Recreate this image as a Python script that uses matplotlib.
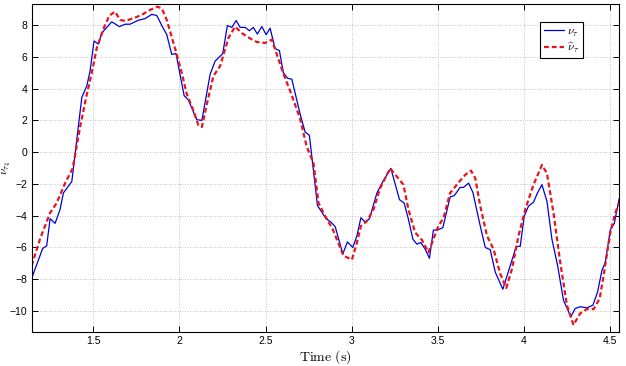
import matplotlib
matplotlib.use("Agg")
import matplotlib.pyplot as plt

t_true = [1.142, 1.206, 1.229, 1.249, 1.278, 1.307, 1.326, 1.375, 1.433, 1.462, 1.481, 1.504,
          1.529, 1.549, 1.607, 1.651, 1.684, 1.713, 1.761, 1.800, 1.839, 1.868, 1.903, 1.926,
          1.955, 1.980, 2.027, 2.052, 2.100, 2.130, 2.178, 2.207, 2.251, 2.278, 2.304, 2.329,
          2.352, 2.381, 2.406, 2.429, 2.452, 2.478, 2.503, 2.526, 2.555, 2.580, 2.603, 2.627,
          2.652, 2.700, 2.729, 2.754, 2.801, 2.851, 2.879, 2.904, 2.948, 2.975, 3.006, 3.030,
          3.053, 3.078, 3.103, 3.146, 3.181, 3.227, 3.277, 3.304, 3.329, 3.355, 3.378, 3.401,
          3.426, 3.451, 3.474, 3.498, 3.529, 3.571, 3.595, 3.629, 3.649, 3.678, 3.703, 3.746,
          3.775, 3.804, 3.833, 3.877, 3.920, 3.955, 3.978, 4.001, 4.026, 4.055, 4.078, 4.104,
          4.133, 4.162, 4.195, 4.229, 4.272, 4.297, 4.326, 4.365, 4.400, 4.427, 4.452, 4.472,
          4.501, 4.524, 4.552]
nu_true = [-7.93, -6.06, -5.90, -4.19, -4.48, -3.60, -2.57, -1.85, 3.44, 4.17, 5.10, 7.00,
           6.80, 7.50, 8.20, 7.90, 8.05, 8.05, 8.30, 8.40, 8.67, 8.60, 7.85, 7.40,
           6.15, 6.20, 3.55, 3.28, 2.04, 2.00, 4.90, 5.73, 6.20, 7.97, 7.85, 8.28,
           7.85, 7.85, 7.64, 7.85, 7.43, 7.90, 7.39, 7.80, 6.52, 6.39, 5.00, 4.65,
           4.59, 2.41, 1.27, 1.06, -3.36, -4.19, -4.40, -4.69, -6.41, -5.65, -6.00, -5.27,
           -4.13, -4.40, -4.19, -2.57, -1.85, -1.02, -2.99, -3.20, -4.23, -5.48, -5.79, -5.69,
           -6.10, -6.68, -4.90, -4.90, -4.75, -2.82, -2.74, -2.22, -2.22, -1.95, -2.53, -4.65,
           -6.00, -6.14, -7.55, -8.63, -7.14, -5.93, -5.93, -4.03, -3.40, -3.15, -2.57, -2.05,
           -3.09, -5.48, -7.14, -9.32, -10.36, -9.84, -9.73, -9.80, -9.63, -8.80, -7.45, -6.93,
           -4.90, -4.48, -2.95]

t_est = [1.142, 1.190, 1.249, 1.287, 1.336, 1.380, 1.423, 1.458, 1.491, 1.520, 1.562, 1.593,
         1.626, 1.655, 1.684, 1.732, 1.781, 1.829, 1.872, 1.897, 1.926, 1.961, 1.984, 2.013,
         2.042, 2.081, 2.110, 2.130, 2.159, 2.197, 2.236, 2.284, 2.323, 2.362, 2.406, 2.449,
         2.497, 2.536, 2.565, 2.603, 2.646, 2.700, 2.739, 2.778, 2.807, 2.846, 2.890, 2.917,
         2.952, 3.001, 3.030, 3.053, 3.088, 3.126, 3.165, 3.223, 3.262, 3.300, 3.329, 3.368,
         3.407, 3.445, 3.474, 3.503, 3.533, 3.571, 3.620, 3.659, 3.692, 3.717, 3.746, 3.785,
         3.823, 3.862, 3.897, 3.930, 3.968, 4.007, 4.055, 4.104, 4.133, 4.171, 4.210, 4.249,
         4.287, 4.326, 4.365, 4.404, 4.439, 4.462, 4.501, 4.530, 4.552]
nu_est = [-7.14, -5.48, -3.82, -3.20, -1.95, -1.02, 1.58, 3.44, 5.00, 6.56, 7.85, 8.59,
          8.84, 8.32, 8.26, 8.42, 8.64, 8.95, 9.15, 9.05, 8.32, 7.02, 6.15, 5.00,
          3.66, 2.62, 1.68, 1.58, 3.03, 4.79, 5.42, 7.18, 7.90, 7.49, 7.18, 6.93,
          6.87, 7.08, 6.15, 4.94, 3.75, 2.10, 0.33, -0.70, -3.20, -4.03, -4.86, -5.59,
          -6.52, -6.77, -5.69, -4.65, -4.34, -3.61, -2.26, -1.02, -1.54, -2.05, -3.61, -5.06,
          -5.52, -6.31, -5.48, -4.65, -4.13, -2.57, -1.91, -1.43, -1.16, -1.64, -3.40, -5.27,
          -6.10, -7.66, -8.55, -7.35, -5.27, -3.61, -2.05, -0.81, -1.33, -3.82, -6.93, -9.63,
          -10.88, -10.15, -9.88, -9.88, -9.22, -7.76, -5.06, -3.82, -3.20]

x_ticks = [1.5, 2, 2.5, 3, 3.5, 4, 4.5]
x_tick_labels = ["1.5", "2", "2.5", "3", "3.5", "4", "4.5"]
y_ticks = [8, 6, 4, 2, 0, -2, -4, -6, -8, -10]

plt.rcParams['font.family'] = ['Liberation Sans', 'DejaVu Sans']
plt.rcParams['mathtext.fontset'] = 'cm'

fig = plt.figure(figsize=(6.26, 3.66), dpi=100)
ax = fig.add_axes([0.0506, 0.092, 0.9384, 0.897])

ax.plot(t_true, nu_true, color='#0000dd', lw=0.9, label=r'$\nu_\tau$')
ax.plot(t_est, nu_est, color='#e8141c', lw=1.6, ls=(0, (2.2, 1.3)), label=r'$\widehat{\nu}_\tau$')

ax.set_xlim(1.142, 4.552)
ax.set_ylim(-11.34, 9.32)
ax.set_xticks(x_ticks)
ax.set_xticklabels(x_tick_labels)
ax.set_yticks(y_ticks)
ax.tick_params(direction='in', top=True, right=True, labelsize=7.5, length=4, width=0.7, pad=3)
ax.grid(True, color='#b0b0b0', ls=(0, (1, 2)), lw=0.6)
for s in ax.spines.values():
    s.set_linewidth(0.8)

ax.set_xlabel(r'$\mathrm{Time\ (s)}$', fontsize=10, labelpad=1)
ax.set_ylabel(r'$\nu_{\tau_4}$', fontsize=8.5)
ax.yaxis.set_label_coords(-0.031, 0.5)

leg = ax.legend(loc='upper right', bbox_to_anchor=(0.939, 0.945), fontsize=8.5,
                fancybox=False, edgecolor='black', framealpha=1, handlelength=1.7,
                handletextpad=0.3, borderpad=0.3, labelspacing=0.15, borderaxespad=0)
leg.get_frame().set_linewidth(0.8)

fig.savefig('out.png', dpi=100)
